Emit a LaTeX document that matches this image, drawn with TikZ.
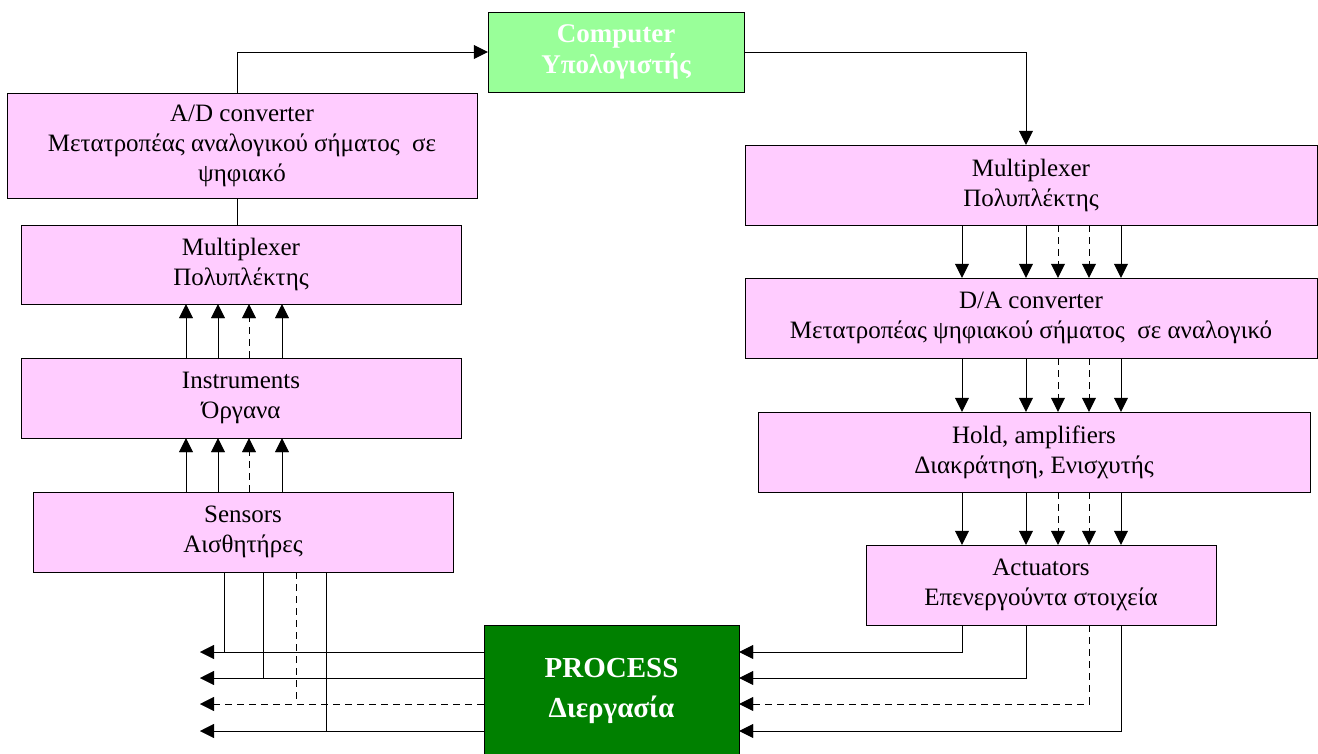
\documentclass[tikz,border=0pt]{standalone}
\usepackage{fontspec}
\setmainfont{Liberation Serif}
\usetikzlibrary{positioning, arrows.meta}
\definecolor{boxpink}{RGB}{255,204,255}
\definecolor{pcgreen}{RGB}{153,255,153}
\definecolor{procgreen}{RGB}{0,128,0}
\tikzset{
->, % every connector is directed
>={Triangle[length=14pt,width=14pt]}, % filled black heads
line width=2pt, % heavy lines as in the drawing
x=1pt, y=-1pt, % one unit is one pixel, y runs downwards
block/.style={draw, fill=boxpink, align=center, inner sep=0pt, minimum height=80pt, font=\fontsize{25}{30}\selectfont}, % the pink boxes
bus/.style={dash pattern=on 7pt off 5pt}, % dashed signal line
}

\begin{document}
\begin{tikzpicture}
\useasboundingbox (0,0) rectangle (1318,753);
% the boxes
\node[block, fill=pcgreen, text=white, minimum width=256pt, font=\bfseries\fontsize{27}{31}\selectfont] (comp) at (616,52) {Computer\\Υπολογιστής};
\node[block, minimum width=470pt, minimum height=105pt] (adc) at (242,145.5) {A/D converter\\Μετατροπέας αναλογικού σήματος~ σε\\ψηφιακό};
\node[block, minimum width=440pt, minimum height=79pt] (muxL) at (241,264.5) {Multiplexer\\Πολυπλέκτης};
\node[block, minimum width=440pt] (instr) at (241,398) {Instruments\\Όργανα};
\node[block, minimum width=420pt] (sens) at (243,532) {Sensors\\Αισθητήρες};
\node[block, minimum width=572pt] (muxR) at (1031,185) {Multiplexer\\Πολυπλέκτης};
\node[block, minimum width=572pt] (dac) at (1031,318) {D/A converter\\Μετατροπέας ψηφιακού σήματος~ σε αναλογικό};
\node[block, minimum width=552pt] (hold) at (1034,452) {Hold, amplifiers\\Διακράτηση, Ενισχυτής};
\node[block, minimum width=350pt] (act) at (1041,585) {Actuators\\Επενεργούντα στοιχεία};
\node[block, fill=procgreen, text=white, minimum width=255pt, minimum height=132pt, font=\bfseries\fontsize{29}{40}\selectfont] (proc) at (611.5,691) {PROCESS\\Διεργασία};
% free ends on the left
\coordinate (out1) at (200,652);
\coordinate (out2) at (200,678);
\coordinate (out3) at (200,704);
\coordinate (out4) at (200,731);

\draw (adc.north -| 237,0) |- (comp.west);
\draw (comp.east) -| (muxR.north -| 1026,0);
\draw[-] (adc.south -| 237,0) -- (muxL.north -| 237,0);

% measuring side
\path
(sens.north -| 186,0) edge (instr.south -| 186,0)
(sens.north -| 218,0) edge (instr.south -| 218,0)
(sens.north -| 249,0) edge[bus] (instr.south -| 249,0)
(sens.north -| 282,0) edge (instr.south -| 282,0)
(instr.north -| 186,0) edge (muxL.south -| 186,0)
(instr.north -| 218,0) edge (muxL.south -| 218,0)
(instr.north -| 249,0) edge[bus] (muxL.south -| 249,0)
(instr.north -| 282,0) edge (muxL.south -| 282,0);

% output side
\path
(muxR.south -| 962,0) edge (dac.north -| 962,0)
(muxR.south -| 1026,0) edge (dac.north -| 1026,0)
(muxR.south -| 1058,0) edge[bus] (dac.north -| 1058,0)
(muxR.south -| 1089,0) edge[bus] (dac.north -| 1089,0)
(muxR.south -| 1121,0) edge (dac.north -| 1121,0)
(dac.south -| 962,0) edge (hold.north -| 962,0)
(dac.south -| 1026,0) edge (hold.north -| 1026,0)
(dac.south -| 1058,0) edge[bus] (hold.north -| 1058,0)
(dac.south -| 1089,0) edge[bus] (hold.north -| 1089,0)
(dac.south -| 1121,0) edge (hold.north -| 1121,0)
(hold.south -| 962,0) edge (act.north -| 962,0)
(hold.south -| 1026,0) edge (act.north -| 1026,0)
(hold.south -| 1058,0) edge[bus] (act.north -| 1058,0)
(hold.south -| 1089,0) edge[bus] (act.north -| 1089,0)
(hold.south -| 1121,0) edge (act.north -| 1121,0);

% actuators into the process
\draw (act.south -| 962,0) |- (proc.east |- out1);
\draw (act.south -| 1026,0) |- (proc.east |- out2);
\draw[bus] (act.south -| 1089,0) |- (proc.east |- out3);
\draw (act.south -| 1121,0) |- (proc.east |- out4);

% process out to the left, sensors tapping in
\draw (proc.west |- out1) -- (out1);
\draw (proc.west |- out2) -- (out2);
\draw[bus] (proc.west |- out3) -- (out3);
\draw (proc.west |- out4) -- (out4);
\draw[-] (sens.south -| 224,0) -- (224,0 |- out1);
\draw[-] (sens.south -| 263,0) -- (263,0 |- out2);
\draw[-, bus] (sens.south -| 296,0) -- (296,0 |- out3);
\draw[-] (sens.south -| 326,0) -- (326,0 |- out4);
\end{tikzpicture}
\end{document}
